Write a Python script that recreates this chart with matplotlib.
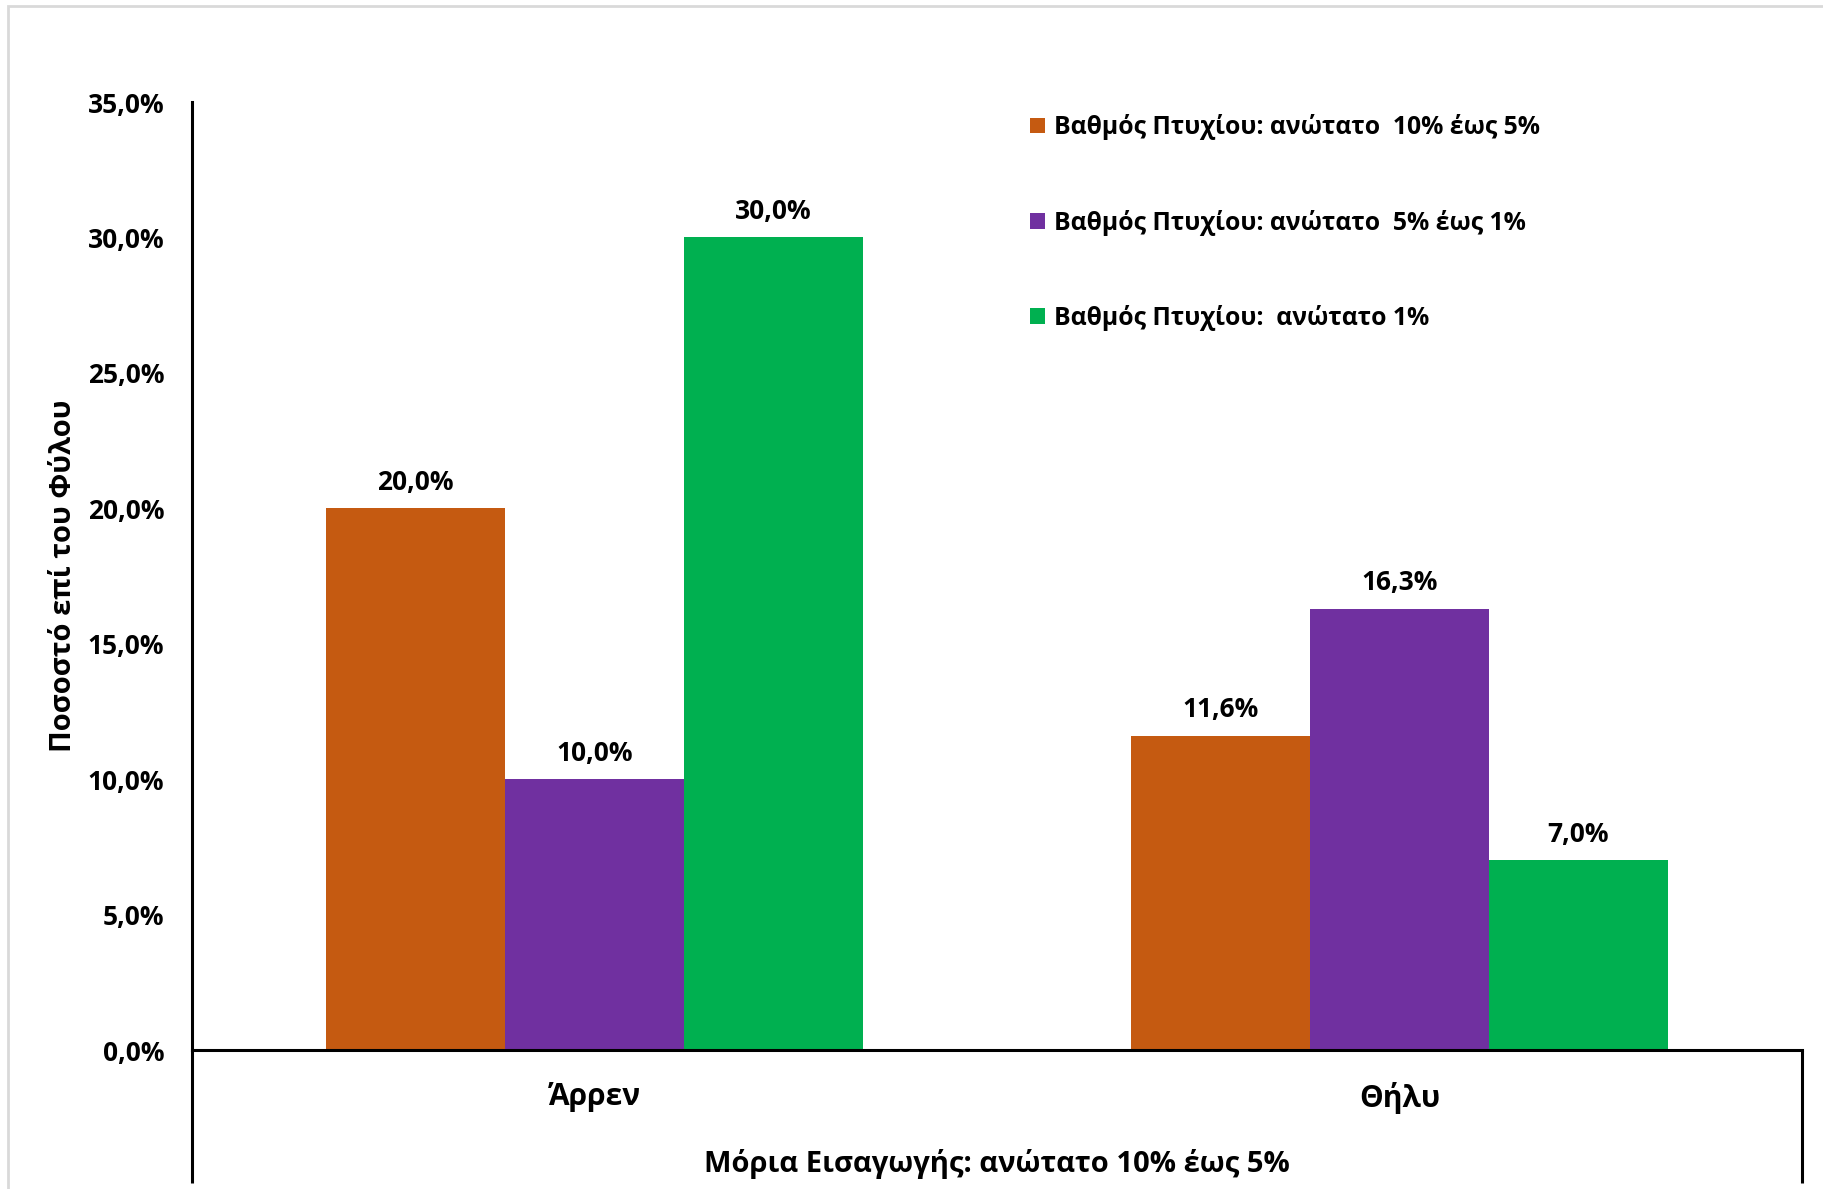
import numpy as np
import matplotlib.pyplot as plt
from matplotlib.patches import Rectangle

plt.rcParams['font.family'] = ['Open Sans', 'DejaVu Sans']
plt.rcParams['font.weight'] = 'bold'

# --- data ---
categories = ['Άρρεν', 'Θήλυ']
series_names = ['Βαθμός Πτυχίου: ανώτατο  10% έως 5%',
                'Βαθμός Πτυχίου: ανώτατο  5% έως 1%',
                'Βαθμός Πτυχίου:  ανώτατο 1%']
top10_5 = [20.0, 11.6]
top5_1 = [10.0, 16.3]
top1 = [30.0, 7.0]
colors = ['#C55A11', '#7030A0', '#00B050']
yticks = [0, 5, 10, 15, 20, 25, 30, 35]

W, H = 1823, 1189
fig = plt.figure(figsize=(W / 100, H / 100), dpi=100)
ax = fig.add_axes([192 / W, 1 - 1050 / H, (1802 - 192) / W, (1050 - 102) / H])

# light grey outer frame (Excel chart area)
fig.patches.append(Rectangle((8 / W, -0.1), 1.2, 1 - 6 / H + 0.1, transform=fig.transFigure,
                             fill=False, edgecolor='#D9D9D9', linewidth=2))

x = np.arange(len(categories))
width = 0.2222
all_series = [top10_5, top5_1, top1]
for i, (vals, name, c) in enumerate(zip(all_series, series_names, colors)):
    ax.bar(x + (i - 1) * width, vals, width, color=c, label=name, linewidth=0)
    for xi, v in zip(x + (i - 1) * width, vals):
        ax.annotate(f'{v:.1f}%'.replace('.', ','), (xi, v), xytext=(0, 9),
                    textcoords='offset points', ha='center', va='bottom',
                    fontsize=19, fontweight='bold')

ax.set_xlim(-0.5, 1.5)
ax.set_ylim(0, 35)
ax.set_yticks(yticks)
ax.set_yticklabels([f'{t:.1f}%'.replace('.', ',') for t in yticks], fontsize=19, fontweight='bold')
ax.set_xticks(x)
ax.set_xticklabels(categories, fontsize=21.5, fontweight='bold')
ax.tick_params(axis='both', length=0)
ax.tick_params(axis='y', pad=20)
ax.tick_params(axis='x', pad=23)

for s in ['top', 'right']:
    ax.spines[s].set_visible(False)
ax.spines['left'].set_linewidth(2.2)
ax.spines['bottom'].set_linewidth(2.2)

# multi-level category axis dividers
ax.plot([0, 0], [0, -0.14], transform=ax.transAxes, color='black', lw=2.2, clip_on=False,
        solid_capstyle='butt')
ax.plot([1, 1], [0, -0.14], transform=ax.transAxes, color='black', lw=2.2, clip_on=False,
        solid_capstyle='butt')

ax.set_ylabel('Ποσοστό επί του Φύλου', fontsize=21, fontweight='bold')
ax.yaxis.set_label_coords((78 - 192) / (1802 - 192), 0.5)

fig.text(997 / W, 1 - 1164 / H, 'Μόρια Εισαγωγής: ανώτατο 10% έως 5%', ha='center', va='center',
         fontsize=21, fontweight='bold')

ax.legend(loc='upper left', bbox_to_anchor=((1008 - 192) / (1802 - 192), 1.0105),
          frameon=False, handlelength=0.6, handleheight=0.6,
          handletextpad=0.37, labelspacing=2.8, prop={'weight': 'bold', 'size': 17.8})

fig.savefig('out.png', dpi=100)
